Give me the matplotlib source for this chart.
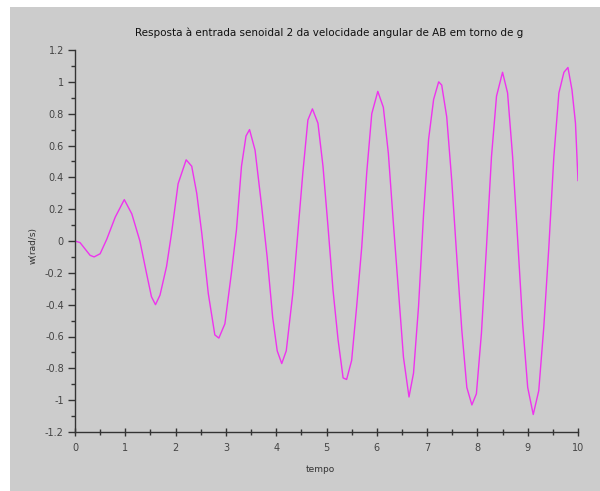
import matplotlib
matplotlib.use("Agg")
import matplotlib.pyplot as plt
from matplotlib.patches import Rectangle
from matplotlib.ticker import MultipleLocator, FuncFormatter

title = "Resposta à entrada senoidal 2 da velocidade angular de AB em torno de g"
xlabel = "tempo"
ylabel = "w(rad/s)"

t = [0, 0.1, 0.2, 0.3, 0.38, 0.5, 0.63, 0.8, 0.98, 1.13,
     1.29, 1.42, 1.52, 1.60, 1.69, 1.82, 1.92, 2.05, 2.21, 2.32,
     2.42, 2.52, 2.65, 2.78, 2.86, 2.98, 3.11, 3.21, 3.31, 3.40,
     3.47, 3.58, 3.71, 3.82, 3.93, 4.02, 4.11, 4.20, 4.33, 4.43,
     4.53, 4.63, 4.72, 4.83, 4.93, 5.03, 5.13, 5.23, 5.33, 5.40,
     5.50, 5.60, 5.70, 5.80, 5.90, 6.02, 6.13, 6.23, 6.33, 6.43,
     6.53, 6.64, 6.73, 6.83, 6.93, 7.03, 7.13, 7.23, 7.29, 7.39,
     7.49, 7.59, 7.69, 7.79, 7.89, 7.98, 8.08, 8.18, 8.28, 8.38,
     8.50, 8.60, 8.70, 8.80, 8.90, 9.00, 9.11, 9.22, 9.32, 9.42,
     9.52, 9.62, 9.72, 9.80, 9.88, 9.95, 10.0]

w = [0, -0.01, -0.05, -0.09, -0.10, -0.08, 0.01, 0.15, 0.26, 0.17,
     0.0, -0.20, -0.35, -0.40, -0.34, -0.16, 0.05, 0.36, 0.51, 0.47,
     0.30, 0.05, -0.33, -0.59, -0.61, -0.52, -0.20, 0.07, 0.47, 0.66,
     0.70, 0.57, 0.22, -0.10, -0.48, -0.69, -0.77, -0.69, -0.33, 0.05,
     0.43, 0.76, 0.83, 0.74, 0.47, 0.09, -0.31, -0.62, -0.86, -0.87,
     -0.75, -0.41, -0.04, 0.43, 0.80, 0.94, 0.84, 0.55, 0.11, -0.31,
     -0.73, -0.98, -0.83, -0.41, 0.17, 0.64, 0.89, 1.00, 0.98, 0.78,
     0.38, -0.10, -0.56, -0.92, -1.03, -0.96, -0.58, -0.04, 0.53, 0.91,
     1.06, 0.93, 0.53, 0.01, -0.52, -0.92, -1.09, -0.94, -0.54, -0.04,
     0.53, 0.93, 1.06, 1.09, 0.95, 0.74, 0.38]

W, H = 600, 491
fig = plt.figure(figsize=(W / 100, H / 100), dpi=100, facecolor="white")
grey = "#cccccc"
fig.patches.append(Rectangle((10 / W, 0), 1 - 10 / W, 1 - 7 / H,
                             transform=fig.transFigure, facecolor=grey,
                             edgecolor="none", zorder=-10))

ax = fig.add_axes([75 / W, 1 - 432 / H, (578 - 75) / W, (432 - 50) / H])
ax.set_zorder(5)
ax.set_facecolor("none")
ax.plot(t, w, color="#ee33ee", lw=1.0)

ax.set_xlim(0, 10)
ax.set_ylim(-1.2, 1.2)
ax.xaxis.set_major_locator(MultipleLocator(1))
ax.xaxis.set_minor_locator(MultipleLocator(0.5))
ax.yaxis.set_major_locator(MultipleLocator(0.2))
ax.yaxis.set_minor_locator(MultipleLocator(0.1))
ax.yaxis.set_major_formatter(FuncFormatter(lambda v, p: "%g" % round(v, 2)))

for s in ["top", "right"]:
    ax.spines[s].set_visible(False)
for s in ["left", "bottom"]:
    ax.spines[s].set_color("#333333")
    ax.spines[s].set_linewidth(1.0)

ax.tick_params(axis="y", which="major", direction="out", length=5, width=1,
               color="#333333", labelsize=7, labelcolor="#444444", pad=3)
ax.tick_params(axis="y", which="minor", direction="out", length=3, width=1,
               color="#333333")
ax.tick_params(axis="x", which="major", direction="inout", length=6, width=1,
               color="#333333", labelsize=7, labelcolor="#444444", pad=5)
ax.tick_params(axis="x", which="minor", direction="inout", length=4, width=1,
               color="#333333")

fig.text(329 / W, 1 - 33 / H, title, ha="center", va="center",
         fontsize=7.5, color="#111111", zorder=10)
fig.text(320 / W, 1 - 469 / H, xlabel, ha="center", va="center",
         fontsize=6.5, color="#333333", zorder=10)
fig.text(33 / W, 1 - 245 / H, ylabel, ha="center", va="center",
         fontsize=6.5, color="#333333", rotation=90, zorder=10)

fig.savefig("out.png", dpi=100, facecolor=fig.get_facecolor())
